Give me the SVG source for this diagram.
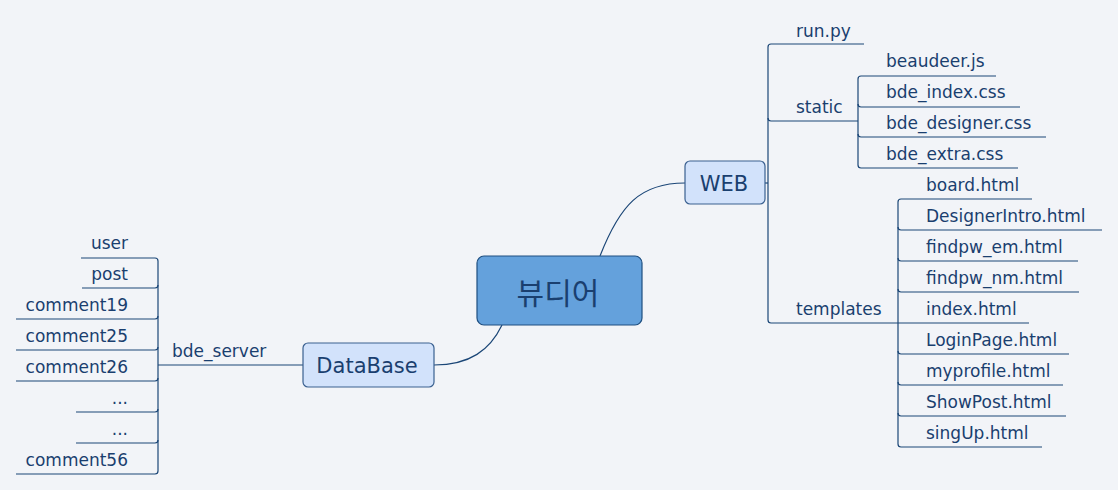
<svg xmlns="http://www.w3.org/2000/svg" width="1118" height="490" viewBox="0 0 1118 490">
<style>
.bg{fill:#f2f4f8}
.ln{fill:none;stroke:#1b4677;stroke-width:1.2}
.t{font-family:"DejaVu Sans",Verdana,sans-serif;font-size:17px;fill:#1a3f6f}
.r{text-anchor:end}
.main{fill:#64a1dc;stroke:#1f4f80;stroke-width:1.2}
.sub{fill:#d2e2fb;stroke:#3a6090;stroke-width:1.2}
.mt{font-family:"Noto Sans CJK KR","DejaVu Sans",sans-serif;font-size:30px;fill:#1a3f6f;text-anchor:middle}
.st{font-family:"DejaVu Sans",Verdana,sans-serif;font-size:21px;fill:#1a3f6f;text-anchor:middle}
</style>
<rect class="bg" x="0" y="0" width="1118" height="490"/>
<g id="connectors">
<path class="ln" d="M600,256 C620,205 640,183 685,183"/>
<path class="ln" d="M502,325 C490,350 470,365 434,365"/>
<path class="ln" d="M765,183 L768,183"/>
<path class="ln" d="M864,44 L771,44 Q768,44 768,47 L768,320 Q768,323 771,323 L1029,323"/>
<path class="ln" d="M768,118 Q768,121 771,121 L858,121"/>
<path class="ln" d="M996,76 L861,76 Q858,76 858,79 L858,165 Q858,168 861,168 L1018,168"/>
<path class="ln" d="M858,104 Q858,107 861,107 L1020,107"/>
<path class="ln" d="M858,134 Q858,137 861,137 L1046,137"/>
<path class="ln" d="M1032,199 L901,199 Q898,199 898,202 L898,444 Q898,447 901,447 L1042,447"/>
<path class="ln" d="M898,227 Q898,230 901,230 L1102,230"/>
<path class="ln" d="M898,258 Q898,261 901,261 L1078,261"/>
<path class="ln" d="M898,289 Q898,292 901,292 L1079,292"/>
<path class="ln" d="M898,351 Q898,354 901,354 L1069,354"/>
<path class="ln" d="M898,382 Q898,385 901,385 L1063,385"/>
<path class="ln" d="M898,413 Q898,416 901,416 L1066,416"/>
<path class="ln" d="M303,365 L158,365"/>
<path class="ln" d="M81,258 L155,258 Q158,258 158,261 L158,471 Q158,474 155,474 L16,474"/>
<path class="ln" d="M158,285 Q158,288 155,288 L82,288"/>
<path class="ln" d="M158,316 Q158,319 155,319 L16,319"/>
<path class="ln" d="M158,347 Q158,350 155,350 L16,350"/>
<path class="ln" d="M158,378 Q158,381 155,381 L16,381"/>
<path class="ln" d="M158,409 Q158,412 155,412 L76,412"/>
<path class="ln" d="M158,440 Q158,443 155,443 L76,443"/>
</g>
<g id="node-center"><rect class="main" x="477" y="256" width="165" height="69" rx="7"/><text class="mt" x="558" y="304">뷰디어</text></g>
<g id="node-web"><rect class="sub" x="685" y="161" width="80" height="43" rx="5"/><text class="st" x="724" y="191">WEB</text></g>
<g id="node-database"><rect class="sub" x="303" y="343" width="131" height="44" rx="5"/><text class="st" x="367" y="373">DataBase</text></g>
<g id="node-run"><text class="t" x="796" y="37">run.py</text></g>
<g id="node-static"><text class="t" x="796" y="113">static</text></g>
<g id="node-templates"><text class="t" x="796" y="315">templates</text></g>
<g id="node-beaudeer"><text class="t" x="886" y="67">beaudeer.js</text></g>
<g id="node-bde-index"><text class="t" x="886" y="98">bde_index.css</text></g>
<g id="node-bde-designer"><text class="t" x="886" y="129">bde_designer.css</text></g>
<g id="node-bde-extra"><text class="t" x="886" y="160">bde_extra.css</text></g>
<g id="node-board"><text class="t" x="926" y="191">board.html</text></g>
<g id="node-designerintro"><text class="t" x="926" y="222">DesignerIntro.html</text></g>
<g id="node-findpw-em"><text class="t" x="926" y="253">findpw_em.html</text></g>
<g id="node-findpw-nm"><text class="t" x="926" y="284">findpw_nm.html</text></g>
<g id="node-index"><text class="t" x="926" y="315">index.html</text></g>
<g id="node-loginpage"><text class="t" x="926" y="346">LoginPage.html</text></g>
<g id="node-myprofile"><text class="t" x="926" y="377">myprofile.html</text></g>
<g id="node-showpost"><text class="t" x="926" y="408">ShowPost.html</text></g>
<g id="node-singup"><text class="t" x="926" y="439">singUp.html</text></g>
<g id="node-bde-server"><text class="t" x="172" y="357">bde_server</text></g>
<g id="node-user"><text class="t r" x="128" y="249">user</text></g>
<g id="node-post"><text class="t r" x="128" y="280">post</text></g>
<g id="node-comment19"><text class="t r" x="128" y="311">comment19</text></g>
<g id="node-comment25"><text class="t r" x="128" y="342">comment25</text></g>
<g id="node-comment26"><text class="t r" x="128" y="373">comment26</text></g>
<g id="node-dots1"><text class="t r" x="128" y="404">...</text></g>
<g id="node-dots2"><text class="t r" x="128" y="435">...</text></g>
<g id="node-comment56"><text class="t r" x="128" y="466">comment56</text></g>
</svg>
